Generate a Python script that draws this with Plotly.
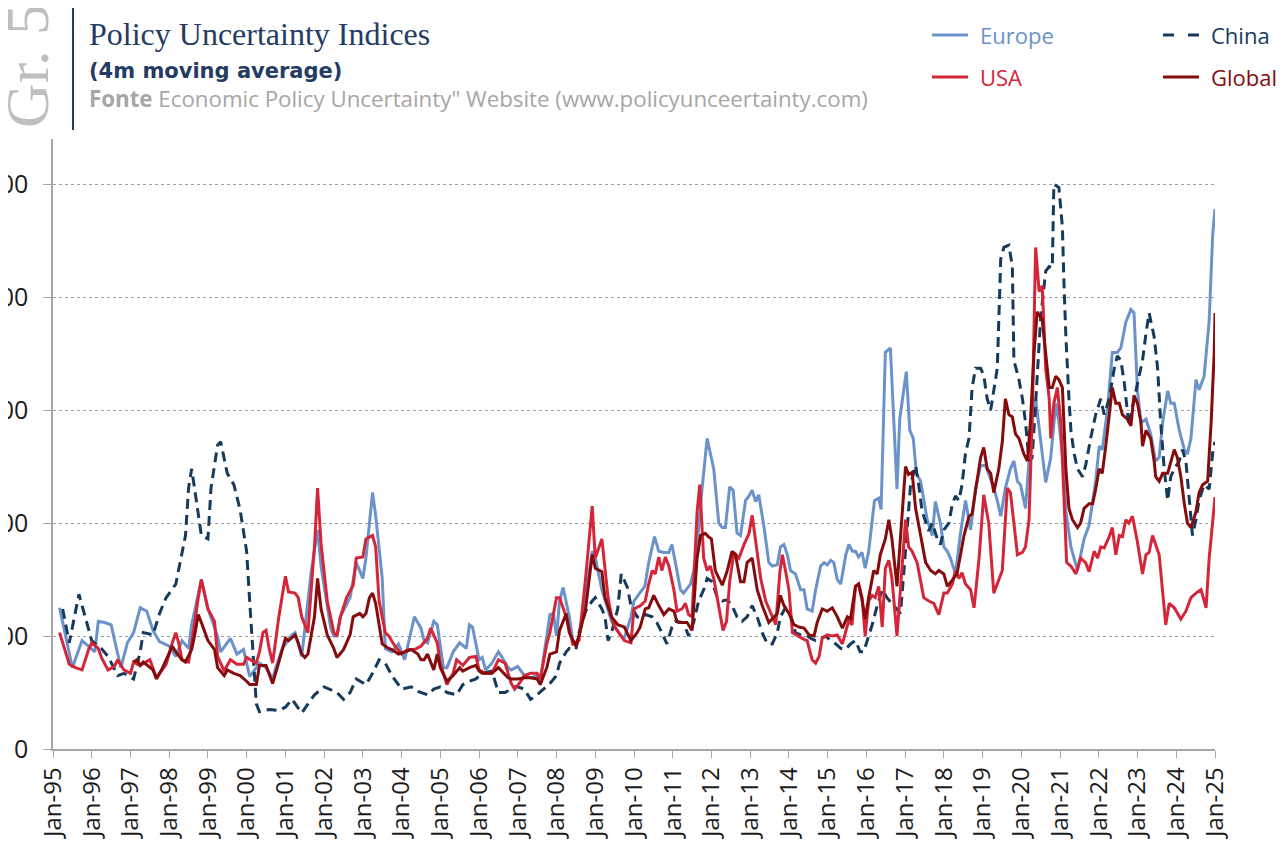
import plotly.graph_objects as go
import pandas as pd

# ---------------- data (decimal year, index value), 4-month moving averages
europe = [(1995.17,125),(1995.50,72),(1995.75,96),(1996.08,86),(1996.17,113),(1996.33,112),(1996.50,110),(1996.67,82),(1996.75,72),(1996.92,94),
(1997.08,103),(1997.25,125),(1997.42,122),(1997.58,105),(1997.75,95),(1998.00,91),(1998.17,82),(1998.33,96),(1998.50,89),(1998.58,110),
(1998.83,150),(1999.00,124),(1999.25,100),(1999.33,86),(1999.58,98),(1999.75,84),(1999.92,88),(2000.08,64),(2000.25,72),(2000.33,76),
(2000.50,72),(2000.67,62),(2000.75,72),(2000.92,89),(2001.17,101),(2001.25,103),(2001.42,82),(2001.67,158),(2001.83,194),(2001.92,162),
(2002.17,107),(2002.25,100),(2002.33,100),(2002.42,117),(2002.67,134),(2002.83,165),(2003.00,151),(2003.08,169),(2003.25,227),(2003.33,207),
(2003.50,151),(2003.58,89),(2003.75,86),(2003.92,93),(2004.08,79),(2004.33,117),(2004.50,107),(2004.58,96),(2004.67,94),(2004.83,113),
(2004.92,110),(2005.08,72),(2005.17,72),(2005.33,86),(2005.50,94),(2005.67,89),(2005.75,110),(2005.83,108),(2006.00,79),(2006.08,81),
(2006.17,70),(2006.33,76),(2006.50,86),(2006.58,82),(2006.75,72),(2006.83,70),(2007.00,73),(2007.17,65),(2007.33,63),(2007.50,65),
(2007.58,58),(2007.67,82),(2007.83,119),(2007.92,120),(2008.00,100),(2008.08,131),(2008.17,143),(2008.33,117),(2008.42,96),(2008.50,91),
(2008.58,100),(2008.75,134),(2008.92,175),(2009.00,169),(2009.17,141),(2009.33,124),(2009.42,113),(2009.67,100),(2009.75,98),(2009.92,117),
(2010.00,131),(2010.17,139),(2010.28,144),(2010.38,165),(2010.53,188),(2010.64,175),(2010.77,174),(2010.90,174),(2010.98,181),(2011.07,165),
(2011.20,141),(2011.28,138),(2011.46,146),(2011.54,157),(2011.63,179),(2011.76,231),(2011.89,275),(2011.97,262),(2012.06,248),(2012.19,200),
(2012.28,196),(2012.36,196),(2012.47,232),(2012.56,229),(2012.66,191),(2012.75,189),(2012.88,220),(2012.97,224),(2013.05,229),(2013.14,219),
(2013.22,225),(2013.35,198),(2013.48,165),(2013.57,162),(2013.70,163),(2013.78,179),(2013.87,181),(2013.96,172),(2014.04,158),(2014.17,155),
(2014.30,141),(2014.39,141),(2014.47,124),(2014.60,122),(2014.69,141),(2014.82,162),(2014.91,165),(2014.99,163),(2015.08,167),(2015.16,165),
(2015.25,150),(2015.34,146),(2015.47,172),(2015.55,181),(2015.64,175),(2015.72,175),(2015.80,170),(2015.89,174),(2015.97,160),(2016.06,175),
(2016.15,200),(2016.21,220),(2016.32,222),(2016.38,212),(2016.49,351),(2016.62,355),(2016.79,230),(2016.86,292),(2017.03,334),(2017.12,282),
(2017.21,275),(2017.29,244),(2017.40,237),(2017.48,219),(2017.57,203),(2017.70,189),(2017.78,219),(2017.91,200),(2018.00,179),(2018.09,175),
(2018.17,169),(2018.30,155),(2018.43,191),(2018.56,220),(2018.69,194),(2018.82,231),(2018.95,251),(2019.08,251),(2019.16,244),(2019.29,231),
(2019.38,220),(2019.47,206),(2019.59,231),(2019.72,248),(2019.81,255),(2019.90,237),(2019.98,234),(2020.11,213),(2020.20,255),(2020.28,292),
(2020.37,310),(2020.50,272),(2020.63,236),(2020.76,258),(2020.89,306),(2020.97,289),(2021.10,248),(2021.15,210),(2021.28,179),(2021.45,158),
(2021.62,186),(2021.75,198),(2021.92,237),(2022.01,268),(2022.09,265),(2022.22,299),(2022.35,351),(2022.48,351),(2022.57,355),(2022.70,378),
(2022.83,389),(2022.91,386),(2023.00,317),(2023.09,289),(2023.22,292),(2023.34,279),(2023.47,255),(2023.56,258),(2023.65,289),(2023.78,317),
(2023.86,306),(2023.95,306),(2024.08,282),(2024.21,265),(2024.29,261),(2024.38,275),(2024.51,327),(2024.59,318),(2024.72,330),(2024.85,379),
(2024.94,455),(2025.00,478)]

usa = [(1995.17,103),(1995.42,75),(1995.58,72),(1995.75,70),(1995.92,88),(1996.00,94),(1996.17,89),(1996.25,81),(1996.42,70),(1996.58,73),
(1996.67,79),(1996.83,70),(1997.00,67),(1997.08,77),(1997.25,74),(1997.50,79),(1997.67,63),(1997.92,75),(1998.08,94),(1998.17,103),
(1998.25,93),(1998.33,79),(1998.50,77),(1998.58,93),(1998.75,134),(1998.83,150),(1999.00,124),(1999.17,113),(1999.25,82),(1999.42,69),
(1999.58,79),(1999.75,75),(1999.92,75),(2000.00,81),(2000.25,76),(2000.33,86),(2000.42,103),(2000.50,105),(2000.58,89),(2000.67,76),
(2000.83,117),(2001.00,153),(2001.08,139),(2001.25,138),(2001.33,134),(2001.42,117),(2001.58,103),(2001.75,179),(2001.83,231),(2001.92,182),
(2002.08,131),(2002.25,103),(2002.33,100),(2002.42,117),(2002.58,134),(2002.75,145),(2002.83,169),(2003.00,170),(2003.08,186),(2003.25,189),
(2003.33,179),(2003.42,131),(2003.58,103),(2003.67,100),(2003.83,91),(2004.00,84),(2004.17,88),(2004.33,88),(2004.50,91),(2004.67,98),
(2004.75,107),(2004.92,94),(2005.00,75),(2005.17,57),(2005.33,67),(2005.42,79),(2005.58,74),(2005.75,81),(2005.92,82),(2006.00,70),
(2006.17,67),(2006.33,67),(2006.50,79),(2006.67,76),(2006.83,58),(2006.92,53),(2007.08,60),(2007.17,65),(2007.33,67),(2007.50,67),
(2007.58,62),(2007.75,93),(2007.83,103),(2008.00,134),(2008.08,134),(2008.25,117),(2008.42,93),(2008.58,96),(2008.75,151),(2008.92,215),
(2009.00,169),(2009.17,186),(2009.33,134),(2009.42,117),(2009.50,108),(2009.75,96),(2009.92,94),(2010.00,124),(2010.17,127),(2010.29,131),
(2010.38,146),(2010.47,158),(2010.55,155),(2010.64,170),(2010.72,158),(2010.81,170),(2010.90,162),(2011.03,141),(2011.11,122),(2011.24,124),
(2011.33,129),(2011.41,119),(2011.50,117),(2011.63,210),(2011.70,234),(2011.80,169),(2011.89,158),(2011.97,162),(2012.06,151),(2012.19,124),
(2012.30,105),(2012.39,113),(2012.47,148),(2012.58,174),(2012.71,169),(2012.84,181),(2012.97,191),(2013.05,207),(2013.14,183),(2013.27,151),
(2013.40,131),(2013.53,120),(2013.66,110),(2013.77,158),(2013.83,172),(2013.91,158),(2014.00,141),(2014.09,103),(2014.22,100),(2014.34,98),
(2014.47,96),(2014.60,79),(2014.69,76),(2014.78,82),(2014.86,98),(2014.99,101),(2015.12,100),(2015.25,101),(2015.38,93),(2015.54,113),
(2015.63,110),(2015.72,144),(2015.80,146),(2015.89,134),(2015.97,100),(2016.06,131),(2016.15,136),(2016.23,134),(2016.32,144),(2016.41,108),
(2016.49,160),(2016.58,167),(2016.66,151),(2016.79,100),(2017.01,203),(2017.09,179),(2017.18,175),(2017.31,165),(2017.48,134),(2017.61,131),
(2017.74,129),(2017.87,119),(2018.00,138),(2018.09,138),(2018.22,146),(2018.30,158),(2018.39,151),(2018.47,156),(2018.56,146),(2018.69,141),
(2018.78,125),(2018.91,169),(2019.03,225),(2019.16,200),(2019.29,138),(2019.42,151),(2019.51,158),(2019.64,231),(2019.72,227),(2019.81,200),
(2019.90,172),(2020.03,174),(2020.11,179),(2020.20,203),(2020.28,289),(2020.37,444),(2020.46,405),(2020.54,410),(2020.63,337),(2020.72,310),
(2020.76,275),(2020.84,306),(2020.93,320),(2021.02,289),(2021.10,227),(2021.17,165),(2021.28,162),(2021.41,155),(2021.53,169),(2021.66,165),
(2021.75,157),(2021.88,175),(2021.97,169),(2022.05,179),(2022.14,178),(2022.27,188),(2022.35,196),(2022.44,172),(2022.53,189),(2022.61,188),
(2022.70,203),(2022.78,200),(2022.87,206),(2023.00,183),(2023.13,155),(2023.22,172),(2023.30,174),(2023.39,189),(2023.56,172),(2023.65,138),
(2023.73,110),(2023.82,129),(2023.95,125),(2024.12,115),(2024.25,122),(2024.38,134),(2024.51,138),(2024.64,141),(2024.77,125),(2024.85,169),
(2024.94,203),(2025.00,223)]

china = [(1995.25,124),(1995.42,94),(1995.67,137),(1996.00,96),(1996.25,89),(1996.42,82),(1996.67,65),(1996.83,67),(1997.08,62),(1997.25,86),
(1997.33,103),(1997.58,101),(1997.75,120),(1997.92,134),(1998.17,146),(1998.33,172),(1998.42,189),(1998.50,231),(1998.58,248),(1998.67,227),
(1998.83,189),(1999.00,186),(1999.08,231),(1999.25,269),(1999.33,272),(1999.50,244),(1999.67,234),(1999.83,212),(2000.00,175),(2000.08,130),
(2000.17,80),(2000.25,40),(2000.33,33),(2000.58,35),(2000.83,34),(2001.00,37),(2001.17,44),(2001.42,32),(2001.75,48),(2002.00,55),
(2002.33,50),(2002.50,44),(2002.67,50),(2002.83,62),(2003.08,57),(2003.25,67),(2003.42,79),(2003.58,76),(2003.75,65),(2004.00,53),
(2004.25,55),(2004.42,51),(2004.67,48),(2004.83,53),(2005.00,55),(2005.17,50),(2005.42,48),(2005.58,57),(2005.75,60),(2005.92,62),
(2006.08,67),(2006.33,69),(2006.50,50),(2006.67,50),(2006.92,55),(2007.00,55),(2007.17,53),(2007.33,44),(2007.50,48),(2007.67,53),
(2007.83,58),(2008.00,65),(2008.08,76),(2008.25,86),(2008.33,89),(2008.50,88),(2008.58,103),(2008.75,122),(2008.92,131),(2009.00,134),
(2009.17,124),(2009.25,117),(2009.33,96),(2009.42,103),(2009.58,124),(2009.67,155),(2009.83,143),(2009.92,127),(2010.08,117),(2010.20,116),
(2010.29,119),(2010.47,117),(2010.59,112),(2010.72,103),(2010.85,93),(2010.98,108),(2011.07,113),(2011.16,112),(2011.28,112),(2011.41,100),
(2011.54,112),(2011.67,131),(2011.80,141),(2011.89,151),(2012.02,148),(2012.15,134),(2012.28,131),(2012.41,132),(2012.53,127),(2012.66,117),
(2012.79,113),(2012.92,117),(2013.05,127),(2013.18,117),(2013.31,103),(2013.44,93),(2013.57,93),(2013.70,103),(2013.78,117),(2013.91,125),
(2014.04,119),(2014.17,103),(2014.30,101),(2014.43,101),(2014.56,98),(2014.69,96),(2014.82,98),(2014.95,100),(2015.08,96),(2015.21,93),
(2015.34,89),(2015.46,88),(2015.59,93),(2015.72,96),(2015.84,86),(2015.93,86),(2016.06,100),(2016.15,110),(2016.28,127),(2016.41,141),
(2016.53,134),(2016.66,129),(2016.79,124),(2016.88,120),(2016.97,158),(2017.05,193),(2017.14,234),(2017.27,251),(2017.35,234),(2017.44,210),
(2017.53,200),(2017.61,193),(2017.70,200),(2017.83,186),(2017.91,181),(2018.00,194),(2018.13,200),(2018.22,217),(2018.30,224),(2018.39,220),
(2018.47,234),(2018.56,262),(2018.65,275),(2018.73,320),(2018.82,337),(2018.95,337),(2019.03,331),(2019.12,310),(2019.21,300),(2019.29,317),
(2019.38,337),(2019.47,434),(2019.55,444),(2019.68,446),(2019.77,427),(2019.81,344),(2019.94,327),(2020.03,310),(2020.11,289),(2020.20,255),
(2020.28,258),(2020.37,306),(2020.50,382),(2020.63,423),(2020.72,427),(2020.80,426),(2020.84,500),(2020.97,497),(2021.06,462),(2021.10,413),
(2021.15,365),(2021.23,310),(2021.28,282),(2021.36,262),(2021.45,248),(2021.58,241),(2021.66,251),(2021.79,275),(2021.92,296),(2022.05,310),
(2022.14,296),(2022.27,310),(2022.40,337),(2022.48,348),(2022.57,344),(2022.66,324),(2022.78,286),(2022.87,303),(2023.00,324),(2023.13,344),
(2023.22,368),(2023.30,386),(2023.43,365),(2023.52,337),(2023.60,289),(2023.69,248),(2023.78,220),(2023.86,241),(2023.95,248),(2024.08,255),
(2024.16,265),(2024.25,255),(2024.34,220),(2024.42,189),(2024.51,203),(2024.59,220),(2024.72,234),(2024.85,230),(2024.94,262),(2025.00,272)]

global_epu = [(1997.08,77),(1997.17,79),(1997.25,74),(1997.33,77),(1997.58,70),(1997.67,62),(1997.83,72),(1998.00,86),(1998.08,91),(1998.17,86),
(1998.33,79),(1998.42,77),(1998.58,88),(1998.67,103),(1998.75,119),(1998.83,112),(1999.00,96),(1999.17,88),(1999.25,72),(1999.42,65),
(1999.50,70),(1999.67,67),(1999.83,65),(2000.00,60),(2000.08,57),(2000.25,57),(2000.33,74),(2000.50,74),(2000.58,67),(2000.67,58),
(2000.83,77),(2001.00,98),(2001.08,96),(2001.25,101),(2001.33,94),(2001.42,84),(2001.50,81),(2001.58,84),(2001.75,117),(2001.83,151),
(2001.92,124),(2002.08,101),(2002.25,89),(2002.33,81),(2002.50,88),(2002.67,101),(2002.75,117),(2002.92,120),(2003.00,117),(2003.08,120),
(2003.17,134),(2003.25,138),(2003.33,129),(2003.50,93),(2003.67,89),(2003.75,88),(2003.92,84),(2004.08,86),(2004.25,88),(2004.42,84),
(2004.50,79),(2004.58,79),(2004.67,84),(2004.83,70),(2004.92,84),(2005.00,72),(2005.17,60),(2005.33,65),(2005.50,72),(2005.58,69),
(2005.75,72),(2005.92,74),(2006.00,69),(2006.08,67),(2006.33,67),(2006.50,72),(2006.58,69),(2006.75,63),(2006.83,62),(2007.00,62),
(2007.17,63),(2007.33,63),(2007.50,62),(2007.58,57),(2007.75,72),(2007.83,84),(2008.00,86),(2008.08,105),(2008.25,120),(2008.33,103),
(2008.50,91),(2008.58,100),(2008.75,124),(2008.92,172),(2009.00,160),(2009.17,157),(2009.25,134),(2009.42,117),(2009.58,110),(2009.75,108),
(2009.92,96),(2010.08,103),(2010.16,108),(2010.29,124),(2010.38,125),(2010.51,136),(2010.64,127),(2010.77,119),(2010.90,124),(2011.03,122),
(2011.11,113),(2011.24,112),(2011.37,112),(2011.50,105),(2011.63,169),(2011.72,189),(2011.84,191),(2011.92,188),(2012.00,186),(2012.10,158),
(2012.28,145),(2012.41,158),(2012.53,175),(2012.62,172),(2012.75,148),(2012.84,148),(2012.92,165),(2013.05,169),(2013.18,141),(2013.31,127),
(2013.48,112),(2013.57,115),(2013.70,120),(2013.78,136),(2013.87,127),(2014.00,120),(2014.13,110),(2014.26,108),(2014.39,107),(2014.52,101),
(2014.65,100),(2014.73,112),(2014.86,124),(2014.99,122),(2015.12,125),(2015.25,117),(2015.38,107),(2015.51,117),(2015.59,115),(2015.72,144),
(2015.80,146),(2015.89,132),(2015.97,115),(2016.06,134),(2016.19,158),(2016.28,155),(2016.36,172),(2016.49,186),(2016.58,203),(2016.66,186),
(2016.79,144),(2017.01,250),(2017.09,243),(2017.18,245),(2017.27,213),(2017.40,189),(2017.53,165),(2017.66,158),(2017.78,155),(2017.87,158),
(2018.00,155),(2018.09,144),(2018.22,150),(2018.34,155),(2018.43,172),(2018.52,189),(2018.65,206),(2018.73,208),(2018.82,229),(2018.95,258),
(2019.03,267),(2019.12,248),(2019.21,244),(2019.29,227),(2019.42,248),(2019.51,272),(2019.59,310),(2019.68,296),(2019.77,294),(2019.85,279),
(2019.94,275),(2020.07,261),(2020.16,255),(2020.24,292),(2020.33,351),(2020.41,387),(2020.54,380),(2020.63,351),(2020.72,320),(2020.80,320),
(2020.89,330),(2020.97,327),(2021.06,320),(2021.15,248),(2021.23,213),(2021.32,203),(2021.45,196),(2021.53,200),(2021.62,213),(2021.75,217),
(2021.84,217),(2021.92,230),(2022.01,248),(2022.09,244),(2022.18,268),(2022.35,320),(2022.44,306),(2022.53,306),(2022.61,296),(2022.74,292),
(2022.83,286),(2022.91,313),(2023.00,306),(2023.09,289),(2023.13,268),(2023.22,282),(2023.34,275),(2023.43,255),(2023.47,241),(2023.56,237),
(2023.65,244),(2023.78,244),(2023.86,255),(2023.95,265),(2024.03,258),(2024.12,241),(2024.21,217),(2024.29,200),(2024.38,196),(2024.51,210),
(2024.59,227),(2024.68,234),(2024.81,237),(2024.90,289),(2024.98,351),(2025.00,386)]

series_names = ["Europe", "China", "USA", "Global"]
y_ticks = [0, 100, 200, 300, 400, 500]

title_text = "Policy Uncertainty Indices"
subtitle_text = "(4m moving average)"
source_label = "Fonte"
source_text = " Economic Policy Uncertainty\" Website (www.policyunceertainty.com)"
chart_number = "Gr. 5"

# ---------------- styling
C_EU = "#6B93C9"
C_CN = "#163A5C"
C_US = "#D42638"
C_GL = "#850C0C"
C_NAVY = "#243B63"

W, H = 1288, 845
OFF = 8  # page body margin of the html page
L, R, T, B = 53 - OFF, 73 + OFF, 139 - OFF, 96 + OFF


def to_dates(pairs):
    out = []
    for yr, _ in pairs:
        y0 = int(yr)
        start = pd.Timestamp(year=y0, month=1, day=1)
        end = pd.Timestamp(year=y0 + 1, month=1, day=1)
        out.append(start + (end - start) * (yr - y0))
    return out


def vals(pairs):
    return [v for _, v in pairs]


def px(xp):
    return (xp - OFF - L) / (W - L - R)


def py(yp):
    return (H - B - (yp - OFF)) / (H - T - B)


fig = go.Figure()
styles = {
    "Europe": (europe, dict(color=C_EU, width=3)),
    "China": (china, dict(color=C_CN, width=3, dash="10px,6px")),
    "USA": (usa, dict(color=C_US, width=3)),
    "Global": (global_epu, dict(color=C_GL, width=3)),
}
for name in series_names:
    data, line = styles[name]
    fig.add_trace(go.Scatter(x=to_dates(data), y=vals(data), mode="lines", name=name,
                             line=line, showlegend=False, hoverinfo="skip"))

fig.update_layout(
    width=W, height=H,
    margin=dict(l=L, r=R, t=T, b=B, autoexpand=False),
    paper_bgcolor="white", plot_bgcolor="white",
    showlegend=False,
)
fig.update_xaxes(
    type="date", range=["1995-01-01", "2025-01-01"],
    tick0="1995-01-01", dtick="M12", tickformat="%b-%y", tickangle=-90,
    ticks="outside", ticklen=7, tickcolor="#A6A6A6", tickwidth=1,
    showline=True, linecolor="#A6A6A6", linewidth=1.5,
    showgrid=False, zeroline=False,
    tickfont=dict(family="Open Sans", size=24, color="#1A1A1A"),
    automargin=False,
)
fig.update_yaxes(
    range=[0, 540], tickvals=y_ticks,
    ticks="outside", ticklen=8, tickcolor="#A6A6A6", tickwidth=1,
    showline=True, linecolor="#A6A6A6", linewidth=1.5,
    showgrid=True, gridcolor="#A0A0A0", gridwidth=1, griddash="dot",
    zeroline=False,
    tickfont=dict(family="Open Sans", size=25, color="#1A1A1A"),
    ticklabelstandoff=10,
    automargin=False,
)

ann = []
ann.append(dict(text=title_text, x=px(87), y=py(14), xref="paper", yref="paper", xanchor="left", yanchor="top",
                showarrow=False, font=dict(family="Liberation Serif", size=32, color=C_NAVY)))
ann.append(dict(text="<b>" + subtitle_text + "</b>", x=px(87), y=py(57), xref="paper", yref="paper", xanchor="left", yanchor="top",
                showarrow=False, font=dict(family="DejaVu Sans", size=21, color=C_NAVY)))
ann.append(dict(text="<b>" + source_label + "</b>" + source_text, x=px(87), y=py(81), xref="paper", yref="paper",
                xanchor="left", yanchor="top", showarrow=False,
                font=dict(family="Open Sans", size=22.3, color="#A6A6A6")))
ann.append(dict(text=chart_number, x=px(27), y=py(66), xref="paper", yref="paper", xanchor="center", yanchor="middle",
                textangle=-90, showarrow=False, font=dict(family="Liberation Serif", size=62, color="#BFBFBF")))

shapes = [dict(type="line", xref="paper", yref="paper", x0=px(73), x1=px(73), y0=py(5), y1=py(130),
               line=dict(color=C_NAVY, width=2))]

legend_items = [("Europe", C_EU, "solid", 932, 35), ("China", C_CN, "dash", 1163, 35),
                ("USA", C_US, "solid", 932, 77), ("Global", C_GL, "solid", 1163, 77)]
for name, col, dash, x0, yc in legend_items:
    shapes.append(dict(type="line", xref="paper", yref="paper", x0=px(x0), x1=px(x0 + 36), y0=py(yc), y1=py(yc),
                       line=dict(color=col, width=3, dash=("11px,14px" if dash == "dash" else "solid"))))
    ann.append(dict(text=name, x=px(x0 + 46), y=py(yc), xref="paper", yref="paper", xanchor="left", yanchor="middle",
                    showarrow=False, font=dict(family="Open Sans", size=22, color=col)))

fig.update_layout(annotations=ann, shapes=shapes)
fig.write_html("out.html")
